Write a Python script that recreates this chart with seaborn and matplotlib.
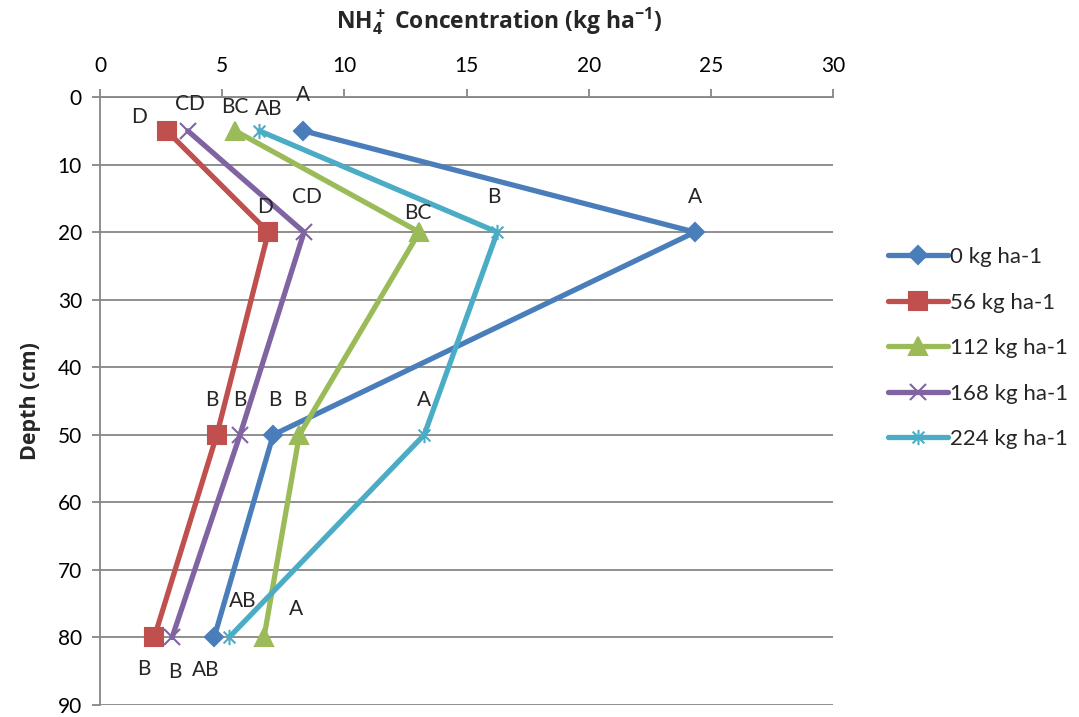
import numpy as np
import pandas as pd
import seaborn as sns
import matplotlib.pyplot as plt
from matplotlib.path import Path

# Sampling depths (cm) and NH4+ concentration per N rate (kg ha-1)
depths = [5, 20, 50, 80]
rates = ["0 kg ha-1", "56 kg ha-1", "112 kg ha-1", "168 kg ha-1", "224 kg ha-1"]
conc_0 = [8.32, 24.35, 7.09, 4.67]
conc_56 = [2.73, 6.89, 4.78, 2.22]
conc_112 = [5.53, 13.07, 8.16, 6.71]
conc_168 = [3.59, 8.35, 5.73, 2.95]
conc_224 = [6.52, 16.26, 13.27, 5.28]

# Mean separation letters
letters_0 = ["A", "A", "B", "AB"]
letters_56 = ["D", "D", "B", "B"]
letters_112 = ["BC", "BC", "B", "A"]
letters_168 = ["CD", "CD", "B", "B"]
letters_224 = ["AB", "B", "A", "AB"]

series = [conc_0, conc_56, conc_112, conc_168, conc_224]
letters = [letters_0, letters_56, letters_112, letters_168, letters_224]

df = pd.DataFrame({
    "Concentration": np.concatenate(series),
    "Depth": depths * len(rates),
    "Rate": np.repeat(rates, len(depths)),
})

sns.set_theme(style="white")
plt.rcParams["font.family"] = ["Lato", "DejaVu Sans"]
plt.rcParams["mathtext.fontset"] = "custom"
plt.rcParams["mathtext.bf"] = "Open Sans:bold"
plt.rcParams["mathtext.rm"] = "Open Sans:bold"

colors = ["#4A7EBB", "#C0504D", "#9BBB59", "#8064A2", "#4BACC6"]

# asterisk marker: an x with a vertical bar through it
star = Path(
    [(-1, -1), (1, 1), (-1, 1), (1, -1), (0, -1.3), (0, 1.3)],
    [Path.MOVETO, Path.LINETO, Path.MOVETO, Path.LINETO, Path.MOVETO, Path.LINETO],
)
marker_list = ["D", "s", "^", "x", star]
msizes = [9.5, 13, 12.5, 12, 11]

fig = plt.figure(figsize=(10.79, 7.17), dpi=100)
ax = fig.add_axes([0.0927, 0.0167, 0.772 - 0.0927, 0.8647 - 0.0167])

sns.lineplot(
    data=df, x="Concentration", y="Depth", hue="Rate",
    palette=colors, orient="y", linewidth=3.8, ax=ax, legend=True,
)


def style_marker(line, c, m, ms):
    line.set_marker(m)
    line.set_markeredgecolor(c)
    line.set_markerfacecolor(c)
    line.set_markersize(ms)
    line.set_markeredgewidth(1.5)


for line, c, m, ms in zip(ax.lines[:5], colors, marker_list, msizes):
    style_marker(line, c, m, ms)

ax.set_xlim(0, 30)
ax.set_ylim(90, 0)
ax.set_xticks(np.arange(0, 31, 5))
ax.set_yticks(np.arange(0, 91, 10))
ax.xaxis.tick_top()
ax.xaxis.set_label_position("top")
ax.yaxis.grid(True, color="#868686", linewidth=1.3)
ax.set_axisbelow(True)
for side in ["bottom", "right"]:
    ax.spines[side].set_visible(False)
for side in ["top", "left"]:
    ax.spines[side].set_color("#868686")
    ax.spines[side].set_linewidth(1.3)
ax.tick_params(axis="both", which="major", direction="out", length=6, width=1.3,
               color="#868686", labelsize=15, labelcolor="black", pad=7)
ax.tick_params(axis="x", top=True, bottom=False, pad=9)
ax.tick_params(axis="y", left=True)

ax.set_xlabel(r"$\mathbf{NH_4^+}$ Concentration (kg ha$\mathbf{^{-1}}$)",
              fontsize=16.5, fontweight="bold", family="Open Sans", va="center")
ax.xaxis.set_label_coords(0.544, 1.125)
ax.set_ylabel("Depth (cm)", fontsize=15.5, fontweight="bold", family="Open Sans",
              labelpad=12)

# letter label offsets (pixels) relative to each point
offsets = [
    [(0, 36), (0, 35), (2, 35), (-8, -33)],
    [(-28, 14), (-3, 25), (-5, 35), (-10, -32)],
    [(0, 24), (-2, 19), (0, 35), (32, 28)],
    [(2, 27), (3, 35), (0, 35), (3, -35)],
    [(9, 22), (-3, 35), (0, 35), (14, 36)],
]
for vals, labs, offs in zip(series, letters, offsets):
    for x, y, t, o in zip(vals, depths, labs, offs):
        ax.annotate(t, (x, y), xytext=o, textcoords="offset pixels",
                    ha="center", va="center", fontsize=15)

handles, labels = ax.get_legend_handles_labels()
for h, c, m, ms in zip(handles, colors, marker_list, msizes):
    style_marker(h, c, m, ms)
    h.set_linewidth(3.8)
leg = ax.legend(handles, labels, loc="center left", bbox_to_anchor=(1.075, 0.587),
                frameon=False, fontsize=16, handlelength=2.7, handletextpad=0.1,
                labelspacing=1.15, borderaxespad=0, borderpad=0)

fig.savefig("out.png", dpi=100)
